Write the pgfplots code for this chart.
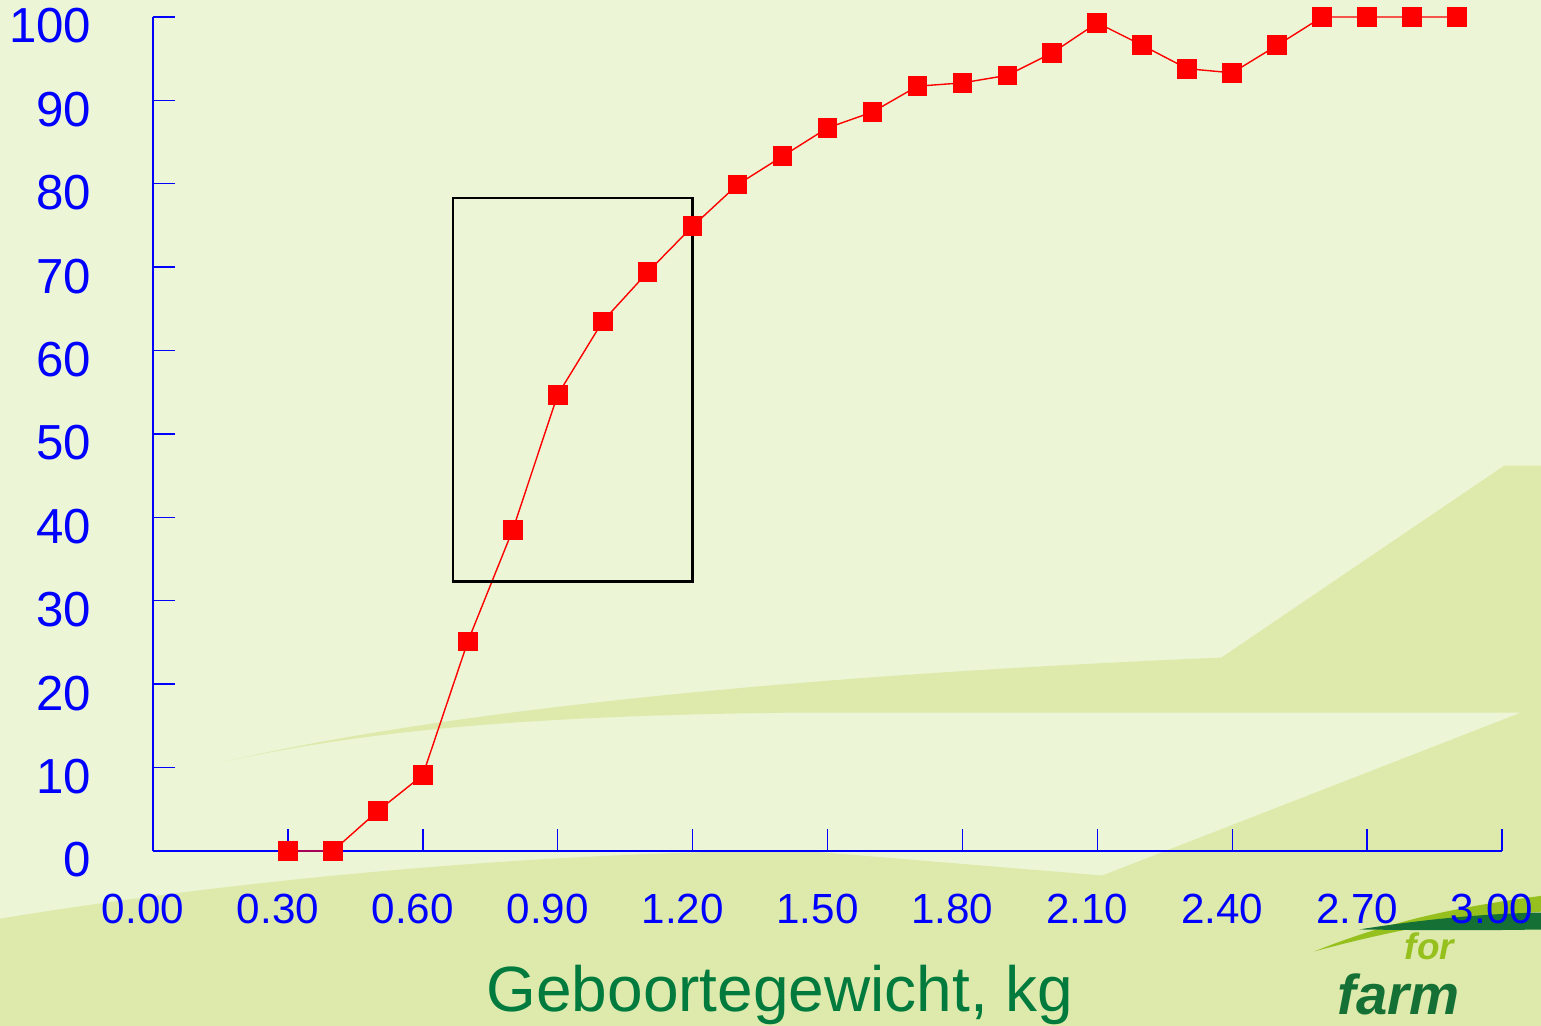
\documentclass[border=0pt]{standalone}
\usepackage{pgfplots}
\pgfplotsset{compat=1.18}
\usepackage{fontspec}
\setmainfont{Liberation Sans}
\definecolor{bglight}{RGB}{236,245,213}
\definecolor{bgdark}{RGB}{221,234,172}
\definecolor{labgreen}{RGB}{0,122,61}
\definecolor{logolight}{RGB}{150,192,30}
\definecolor{logodark}{RGB}{20,112,52}
\begin{document}
\begin{tikzpicture}
\path[use as bounding box] (0,0) rectangle (15.41,10.26);
\begin{scope}
\clip (0,0) rectangle (15.41,10.26);
\fill[bglight] (0,0) rectangle (15.41,10.26);
\begin{scope}[x=0.01cm,y=-0.01cm,shift={(0cm,10.26cm)}]
\fill[bgdark] (225,762) .. controls (400,722) and (700,680) .. (1222,658) -- (1505,466) -- (1545,466) -- (1545,1030) -- (-5,1030) -- (-5,920) .. controls (300,870) and (600,852) .. (800,851) -- (1103,876) -- (1522,713) -- (800,713) .. controls (500,716) and (350,735) .. (225,762) -- cycle;
% logo
\fill[logolight] (1315,952) .. controls (1400,918) and (1470,906) .. (1545,896) -- (1545,912) .. controls (1470,917) and (1400,929) .. (1315,952) -- cycle;
\fill[logodark] (1360,930) .. controls (1430,919) and (1490,914) .. (1545,913) -- (1545,930) .. controls (1490,931) and (1430,931) .. (1360,930) -- cycle;
\node[anchor=base west, inner sep=0pt, text=logolight, font=\bfseries\itshape\fontsize{10.5}{10.5}\selectfont] at (1405,960) {for};
\node[anchor=base west, inner sep=0pt, text=logodark, font=\bfseries\itshape\fontsize{16}{16}\selectfont] at (1338,1015) {farm};
\end{scope}
\end{scope}
\node[anchor=base, inner sep=0pt, text=labgreen, font=\fontsize{18.2}{20}\selectfont] at (7.80,0.14) {Geboortegewicht, kg};
\begin{axis}[
 at={(1.53cm,1.75cm)}, anchor=south west, scale only axis,
 width=13.49cm, height=8.34cm,
 xmin=0, xmax=3, ymin=0, ymax=100,
 axis x line*=bottom, axis y line*=left,
 axis line style={blue, line width=0.5pt},
 clip=false,
 tick align=inside, major tick length=0.22cm,
 tick style={blue, line width=0.4pt},
 xtick={0,0.3,0.6,0.9,1.2,1.5,1.8,2.1,2.4,2.7,3.0},
 xticklabels={0.00,0.30,0.60,0.90,1.20,1.50,1.80,2.10,2.40,2.70,3.00},
 ytick={0,10,20,30,40,50,60,70,80,90,100},
 /pgf/number format/assume math mode=true,
 xticklabel style={anchor=north, inner sep=0pt, yshift=-0.42cm, xshift=-0.1cm, font=\fontsize{12}{14}\selectfont, text=blue},
 yticklabel style={anchor=east, inner sep=0pt, xshift=-0.61cm, yshift=-0.09cm, font=\fontsize{14}{16}\selectfont, text=blue},
]
\addplot[red, line width=0.4pt, mark=square*, mark size=2.6pt, mark options={fill=red, draw=red}] coordinates {
(0.3,0) (0.4,0) (0.5,4.8) (0.6,9.1) (0.7,25.1) (0.8,38.5) (0.9,54.7) (1.0,63.5) (1.1,69.4) (1.2,74.9)
(1.3,79.9) (1.4,83.3) (1.5,86.7) (1.6,88.6) (1.7,91.7) (1.8,92.1) (1.9,93.0) (2.0,95.7) (2.1,99.3)
(2.2,96.6) (2.3,93.8) (2.4,93.3) (2.5,96.6) (2.6,100) (2.7,100) (2.8,100) (2.9,100)
};
\draw[black, line width=0.7pt] (axis cs:0.667,32.3) rectangle (axis cs:1.2,78.3);
\end{axis}
\end{tikzpicture}
\end{document}
